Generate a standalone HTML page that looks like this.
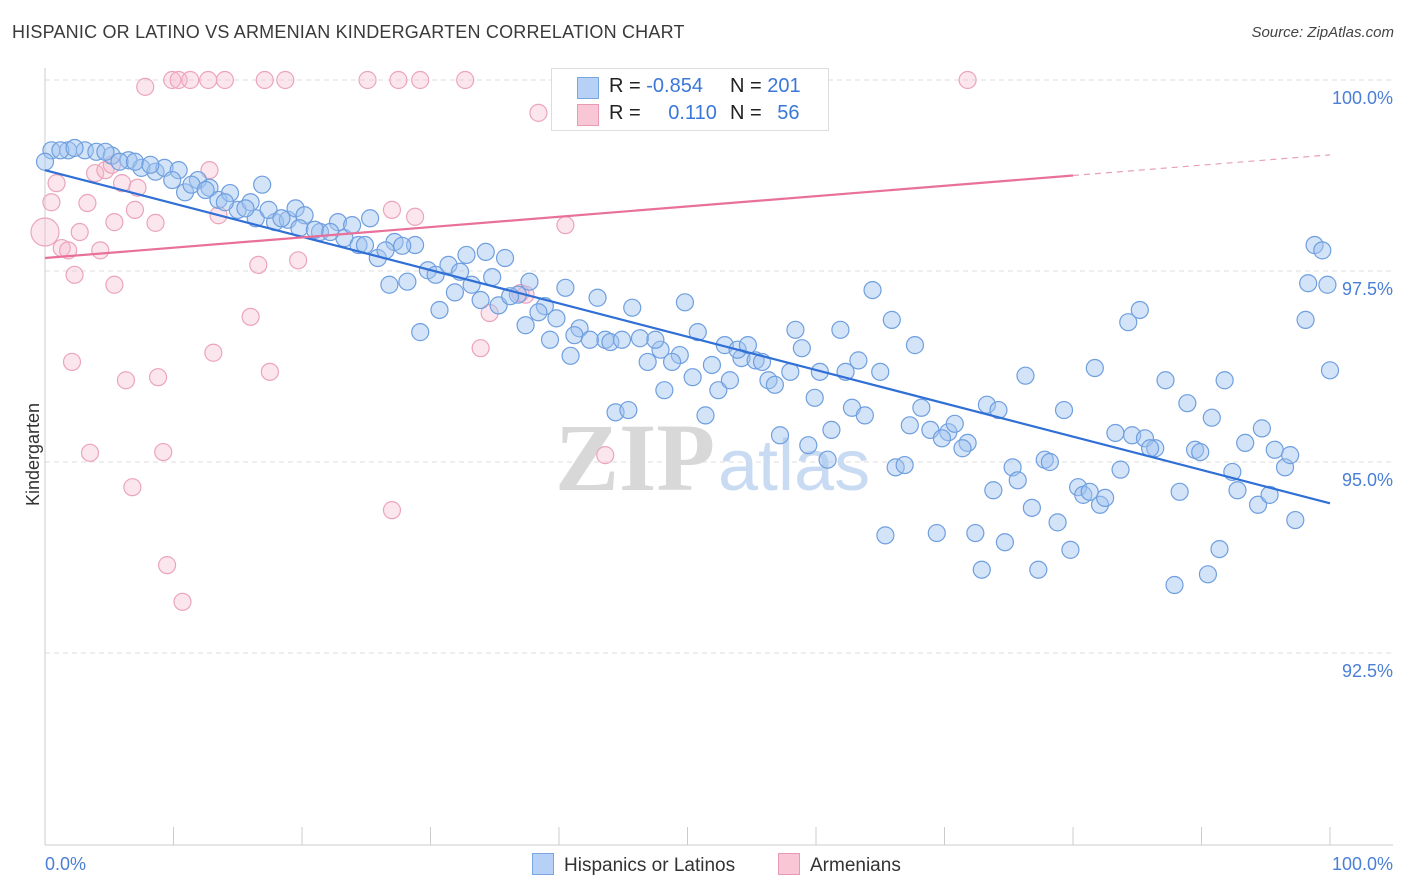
<!DOCTYPE html>
<html><head><meta charset="utf-8"><style>
body{margin:0;background:#fff;font-family:"Liberation Sans",sans-serif;}
#wrap{position:relative;width:1406px;height:892px;overflow:hidden;}
.t{position:absolute;white-space:nowrap;}
</style></head><body>
<div id="wrap">
<div class="t" style="left:12px;top:22px;font-size:18px;color:#3a3a3a;letter-spacing:0.2px">HISPANIC OR LATINO VS ARMENIAN KINDERGARTEN CORRELATION CHART</div>
<div class="t" style="right:12px;top:24px;font-size:15px;color:#444;font-style:italic">Source: ZipAtlas.com</div>
<svg id="svg" width="1406" height="892" style="position:absolute;left:0;top:0"></svg>
<div class="t" style="left:551px;top:68px;width:276px;height:61px;border:1px solid #ddd;background:#fff;font-size:20px;color:#222">
 <div style="position:absolute;left:25px;top:8px;width:20px;height:20px;background:#b7d0f5;border:1px solid #7aa7e0"></div>
 <div style="position:absolute;left:57px;top:6px">R = <span style="color:#3a78d8">-0.854</span></div>
 <div style="position:absolute;left:178px;top:6px">N = <span style="color:#3a78d8">201</span></div>
 <div style="position:absolute;left:25px;top:35px;width:20px;height:20px;background:#f8c6d5;border:1px solid #e89ab5"></div>
 <div style="position:absolute;left:57px;top:33px">R = <span style="color:#3a78d8;margin-left:22px">0.110</span></div>
 <div style="position:absolute;left:178px;top:33px">N = <span style="color:#3a78d8;margin-left:10px">56</span></div>
</div>
<div class="t" style="left:532px;top:853px;font-size:19px;color:#333"><span style="display:inline-block;width:20px;height:20px;background:#b7d0f5;border:1px solid #7aa7e0;vertical-align:-4px;margin-right:10px"></span>Hispanics or Latinos</div>
<div class="t" style="left:778px;top:853px;font-size:19px;color:#333"><span style="display:inline-block;width:20px;height:20px;background:#f8c6d5;border:1px solid #e89ab5;vertical-align:-4px;margin-right:10px"></span>Armenians</div>
<div class="t" style="left:-18px;top:444px;font-size:18px;color:#333;transform:rotate(-90deg)">Kindergarten</div>
</div>
<script>
const xTicks=[0,10,20,30,40,50,60,70,80,90,100];
const yTicks=[100,97.5,95,92.5];
const yTickLabels=["100.0%","97.5%","95.0%","92.5%"];
const xEndLabels=["0.0%","100.0%"];
const blueX=[0.5,1.8,3.1,4.0,5.2,6.5,7.5,8.6,9.3,10.4,10.9,11.9,12.8,13.5,14.4,15.0,16.0,16.4,16.9,17.9,18.9,19.5,20.2,21.4,22.8,23.3,24.4,25.3,25.9,26.8,27.2,28.2,28.8,29.2,29.8,30.7,31.4,31.9,32.8,33.2,33.9,34.3,35.3,35.8,36.8,37.4,37.7,38.9,39.3,39.8,40.5,40.9,41.6,43.0,43.6,44.4,45.4,45.7,46.3,46.9,47.9,48.2,49.4,49.8,50.4,50.8,51.4,51.9,52.4,53.3,54.2,55.3,56.3,57.2,58.0,58.4,58.9,59.4,59.9,60.9,61.2,61.9,62.8,63.3,63.8,64.4,65.0,65.4,65.9,66.2,66.9,67.3,67.7,68.2,68.9,69.4,70.3,70.8,71.8,72.4,72.9,73.3,73.8,74.2,74.7,75.3,75.7,76.3,76.8,77.3,77.8,78.2,78.8,79.3,79.8,80.4,80.8,81.3,81.7,82.1,82.5,83.3,83.7,84.3,84.6,85.2,85.6,86.4,87.2,87.9,88.3,88.9,89.5,89.9,90.5,90.8,91.4,91.8,92.4,92.8,93.4,94.4,94.7,95.3,95.7,96.5,96.9,97.3,98.1,98.3,98.8,99.4,99.8,100.0,1.2,2.3,4.7,5.8,7.0,8.2,9.9,11.4,12.5,14.0,15.6,17.4,18.4,19.8,21.0,22.2,23.9,24.9,26.5,27.8,30.4,32.3,34.8,36.2,38.4,41.2,42.4,44.0,44.9,47.5,48.8,52.9,53.9,54.7,55.8,56.8,60.3,62.3,69.8,71.4,86.0,0.0];
const blueY=[99.08,99.08,99.08,99.06,99.01,98.95,98.85,98.80,98.85,98.82,98.53,98.69,98.59,98.43,98.52,98.30,98.40,98.19,98.63,98.14,98.17,98.32,98.23,98.01,98.14,97.93,97.84,98.19,97.67,97.32,97.88,97.36,97.84,96.70,97.51,96.99,97.58,97.22,97.71,97.32,97.12,97.75,97.05,97.67,97.19,96.79,97.36,97.04,96.60,96.88,97.28,96.39,96.75,97.15,96.60,95.65,95.68,97.02,96.62,96.31,96.47,95.94,96.40,97.09,96.11,96.70,95.61,96.27,95.94,96.07,96.36,96.33,96.07,95.35,96.18,96.73,96.49,95.22,95.84,95.03,95.42,96.73,95.71,96.33,95.61,97.25,96.18,94.04,96.86,94.93,94.96,95.48,96.53,95.71,95.42,94.07,95.39,95.50,95.25,94.07,93.59,95.75,94.63,95.68,93.95,94.93,94.76,96.13,94.40,93.59,95.03,95.00,94.21,95.68,93.85,94.67,94.57,94.61,96.23,94.44,94.53,95.38,94.90,96.83,95.35,96.99,95.31,95.18,96.07,93.39,94.61,95.77,95.16,95.13,93.53,95.58,93.86,96.07,94.87,94.63,95.25,94.44,95.44,94.57,95.16,94.93,95.09,94.24,96.86,97.34,97.84,97.77,97.32,96.20,99.08,99.11,99.06,98.93,98.93,98.89,98.69,98.63,98.56,98.40,98.32,98.30,98.19,98.06,98.04,98.01,98.10,97.84,97.77,97.83,97.45,97.49,97.42,97.17,96.96,96.66,96.60,96.57,96.60,96.60,96.31,96.53,96.47,96.53,96.31,96.01,96.18,96.18,95.31,95.18,95.18,98.93];
const pinkX=[7.8,9.9,10.4,11.3,12.7,14.0,17.1,18.7,25.1,27.5,29.2,32.7,71.8,38.4,0.0,0.5,0.9,1.3,1.8,2.3,2.7,2.1,3.3,3.5,3.9,4.3,4.7,5.2,5.4,5.4,6.0,6.3,6.8,7.0,7.2,8.6,8.8,9.2,9.5,10.7,12.8,13.1,13.5,16.0,16.6,17.5,19.7,27.0,27.0,28.8,33.9,34.6,37.0,37.4,40.5,43.6];
const pinkY=[99.91,100,100,100,100,100,100,100,100,100,100,100,100,99.57,98.01,98.40,98.65,97.80,97.77,97.45,98.01,96.31,98.39,95.12,98.78,97.77,98.82,98.89,98.14,97.32,98.65,96.07,94.67,98.30,98.59,98.13,96.11,95.13,93.65,93.17,98.82,96.43,98.23,96.90,97.58,96.18,97.64,98.30,94.37,98.21,96.49,96.95,97.21,97.19,98.10,95.09];
const blueLine=[98.82,94.46];
const pinkLine=[97.67,99.02];
const pinkSolidEnd=80;
const X=v=>45+v*12.85, Y=v=>80+(100-v)*76.4;
const svg=document.getElementById('svg');const NS='http://www.w3.org/2000/svg';
function mk(t,a,p){const e=document.createElementNS(NS,t);for(const k in a)e.setAttribute(k,a[k]);(p||svg).appendChild(e);return e;}
yTicks.forEach((v,i)=>{const g=mk('line',{x1:45,x2:1393,y1:Y(v),y2:Y(v),stroke:'#ddd','stroke-dasharray':'5,4'});


const t=mk('text',{x:1393,y:Y(v)+24,'text-anchor':'end','font-size':18,fill:'#4a7fd6','font-family':'Liberation Sans'});t.textContent=yTickLabels[i];

});
mk('line',{x1:45,x2:45,y1:68,y2:845,stroke:'#ccc'});
mk('line',{x1:45,x2:1393,y1:845,y2:845,stroke:'#ccc'});
xTicks.forEach(v=>{const l=mk('line',{x1:X(v),x2:X(v),y1:827,y2:845,stroke:'#ccc'});

});
[[0,'start',45],[1,'end',1393]].forEach(([i,a,x])=>{const t=mk('text',{x:x,y:870,'text-anchor':a,'font-size':18,fill:'#4a7fd6','font-family':'Liberation Sans'});t.textContent=xEndLabels[i];

});
const w1=mk('text',{x:555,y:490,'font-size':96,fill:'#d8d8d8','font-family':'Liberation Serif','font-weight':'bold'});w1.textContent='ZIP';


const w2=mk('text',{x:718,y:490,'font-size':72,fill:'#c9dbf3','font-family':'Liberation Sans'});w2.textContent='atlas';


pinkX.forEach((x,i)=>{const c=mk('circle',{cx:X(x),cy:Y(pinkY[i]),r:i==14?14:8.5,fill:'rgba(246,182,202,0.35)',stroke:'#eba4bc','stroke-width':1.2});

});
blueX.forEach((x,i)=>{const c=mk('circle',{cx:X(x),cy:Y(blueY[i]),r:8.5,fill:'rgba(160,196,240,0.45)',stroke:'#6f9fdf','stroke-width':1.2});

});
const bl=mk('line',{x1:X(0),y1:Y(blueLine[0]),x2:X(100),y2:Y(blueLine[1]),stroke:'#2f6fd6','stroke-width':2.2});


const pm=pinkLine[0]+(pinkLine[1]-pinkLine[0])*pinkSolidEnd/100;
const pl=mk('line',{x1:X(0),y1:Y(pinkLine[0]),x2:X(pinkSolidEnd),y2:Y(pm),stroke:'#e8709a','stroke-width':2.2});


const pd=mk('line',{x1:X(pinkSolidEnd),y1:Y(pm),x2:X(100),y2:Y(pinkLine[1]),stroke:'#e8a0b8','stroke-width':1.2,'stroke-dasharray':'6,5'});


</script>
</body></html>
